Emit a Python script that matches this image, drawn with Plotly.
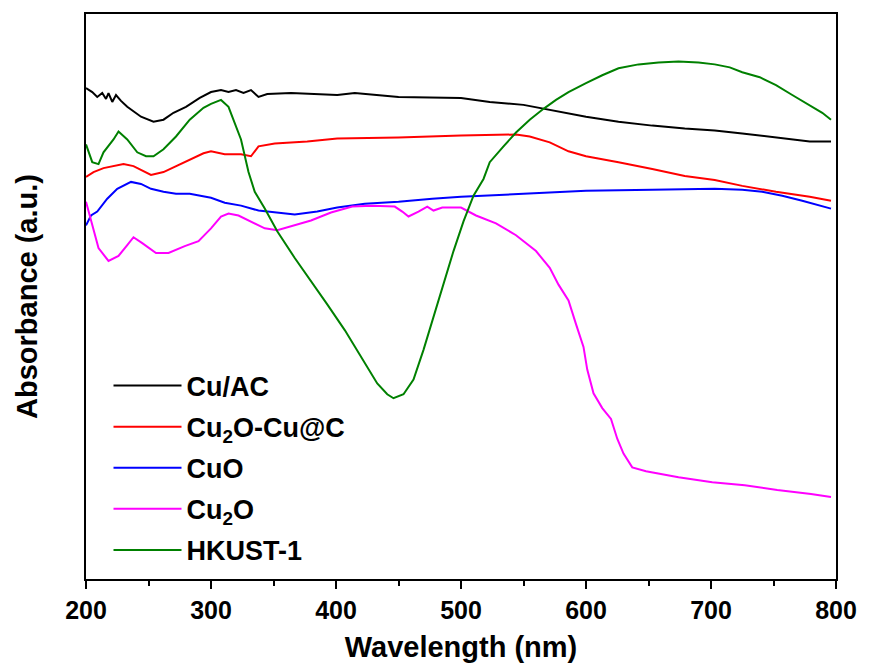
import plotly.graph_objects as go

# Wavelength (nm) / absorbance (a.u.)
wl_cuac = [200, 205, 209, 213, 216, 218, 221, 224, 228, 233, 244, 254, 262, 270, 280, 291, 300, 308, 314, 320, 326, 332, 338, 345, 364, 401, 415, 450, 500, 523, 550, 566, 582, 600, 626, 653, 679, 703, 725, 752, 779, 796]
ab_cuac = [5.02, 4.98, 4.93, 4.97, 4.91, 4.97, 4.88, 4.95, 4.89, 4.83, 4.73, 4.68, 4.70, 4.77, 4.83, 4.92, 4.98, 5.00, 4.98, 5.00, 4.97, 5.00, 4.93, 4.96, 4.97, 4.95, 4.97, 4.93, 4.92, 4.88, 4.85, 4.81, 4.77, 4.73, 4.68, 4.64, 4.61, 4.59, 4.56, 4.52, 4.48, 4.48]

wl_cu2o_cuc = [200, 206, 214, 222, 230, 238, 246, 252, 262, 272, 283, 294, 300, 311, 324, 332, 338, 351, 377, 401, 450, 500, 544, 555, 571, 586, 600, 626, 653, 679, 703, 725, 752, 779, 796]
ab_cu2o_cuc = [4.12, 4.17, 4.21, 4.23, 4.25, 4.23, 4.18, 4.14, 4.17, 4.23, 4.30, 4.36, 4.38, 4.35, 4.35, 4.33, 4.43, 4.46, 4.48, 4.51, 4.52, 4.54, 4.55, 4.53, 4.47, 4.38, 4.33, 4.27, 4.20, 4.13, 4.09, 4.03, 3.97, 3.92, 3.88]

wl_cuo = [200, 204, 209, 217, 225, 236, 244, 252, 262, 272, 283, 291, 300, 311, 324, 338, 351, 367, 385, 401, 423, 450, 477, 500, 550, 600, 653, 703, 725, 741, 757, 773, 796]
ab_cuo = [3.63, 3.73, 3.77, 3.90, 4.00, 4.07, 4.05, 4.00, 3.97, 3.95, 3.95, 3.93, 3.91, 3.86, 3.83, 3.78, 3.76, 3.74, 3.77, 3.81, 3.85, 3.87, 3.90, 3.92, 3.95, 3.98, 3.99, 4.00, 3.99, 3.97, 3.93, 3.88, 3.80]

wl_cu2o = [200, 205, 210, 218, 226, 233, 238, 245, 256, 266, 279, 290, 300, 308, 314, 322, 332, 343, 353, 364, 380, 396, 413, 429, 447, 453, 458, 466, 473, 478, 485, 500, 512, 528, 544, 560, 571, 578, 586, 592, 598, 601, 606, 613, 620, 625, 630, 637, 648, 674, 701, 727, 753, 780, 796]
ab_cu2o = [3.87, 3.63, 3.40, 3.27, 3.32, 3.43, 3.51, 3.45, 3.35, 3.35, 3.42, 3.47, 3.60, 3.72, 3.75, 3.73, 3.67, 3.60, 3.58, 3.62, 3.68, 3.76, 3.82, 3.83, 3.82, 3.77, 3.72, 3.77, 3.82, 3.78, 3.81, 3.81, 3.73, 3.65, 3.53, 3.37, 3.20, 3.03, 2.87, 2.63, 2.40, 2.17, 1.93, 1.78, 1.67, 1.47, 1.32, 1.18, 1.14, 1.08, 1.03, 1.00, 0.95, 0.91, 0.88]

wl_hkust = [200, 205, 210, 214, 222, 226, 233, 241, 248, 254, 262, 272, 283, 294, 300, 308, 314, 319, 324, 330, 335, 343, 353, 367, 380, 393, 407, 420, 433, 441, 446, 454, 462, 470, 478, 486, 494, 502, 510, 518, 523, 534, 544, 555, 566, 576, 586, 600, 613, 626, 642, 658, 674, 690, 703, 715, 725, 739, 752, 765, 779, 789, 796]
ab_hkust = [4.45, 4.27, 4.25, 4.37, 4.50, 4.58, 4.50, 4.37, 4.33, 4.33, 4.40, 4.53, 4.70, 4.82, 4.86, 4.90, 4.83, 4.67, 4.50, 4.17, 3.97, 3.80, 3.57, 3.30, 3.07, 2.83, 2.57, 2.30, 2.03, 1.92, 1.88, 1.92, 2.07, 2.37, 2.70, 3.03, 3.37, 3.67, 3.93, 4.10, 4.27, 4.43, 4.57, 4.70, 4.81, 4.90, 4.98, 5.07, 5.15, 5.22, 5.26, 5.28, 5.29, 5.28, 5.26, 5.23, 5.18, 5.13, 5.05, 4.95, 4.85, 4.77, 4.70]

x_ticks = [200, 300, 400, 500, 600, 700, 800]

series = [
    ("Cu/AC", wl_cuac, ab_cuac, "#000000"),
    ("Cu<sub>2</sub>O-Cu@C", wl_cu2o_cuc, ab_cu2o_cuc, "#ff0000"),
    ("CuO", wl_cuo, ab_cuo, "#0000ff"),
    ("Cu<sub>2</sub>O", wl_cu2o, ab_cu2o, "#ff00ff"),
    ("HKUST-1", wl_hkust, ab_hkust, "#008000"),
]

fig = go.Figure()
for name, x, y, c in series:
    fig.add_trace(go.Scatter(x=x, y=y, mode="lines", name=name, legendgroup=name,
                             line=dict(color=c, width=2)))

narrow = "Liberation Sans Narrow, Arial Narrow, Liberation Sans, Arial"
tickfont = dict(family=narrow, size=25, color="black", weight="bold")
titlefont = dict(family=narrow, size=29, color="black", weight="bold")

fig.update_layout(
    width=869, height=670,
    margin=dict(l=86, r=27, t=13, b=85),
    paper_bgcolor="white", plot_bgcolor="white",
    showlegend=True,
    legend=dict(x=0.03, y=0.008, xanchor="left", yanchor="bottom",
                font=dict(family="Liberation Sans, Arial", size=27, color="black", weight="bold"),
                bgcolor="rgba(0,0,0,0)", tracegroupgap=3, itemwidth=68),
    xaxis=dict(range=[200, 800], tickvals=x_ticks, ticks="outside", ticklen=8, tickwidth=2,
               tickcolor="black", showline=True, linewidth=2, linecolor="black", mirror=True,
               showgrid=False, zeroline=False, tickfont=tickfont,
               minor=dict(dtick=50, ticks="outside", ticklen=5, tickwidth=2, tickcolor="black"),
               title=dict(text="Wavelength (nm)", font=titlefont, standoff=14)),
    yaxis=dict(range=[0.05, 5.77], showticklabels=False, ticks="", showline=True, linewidth=2,
               linecolor="black", mirror=True, showgrid=False, zeroline=False,
               title=dict(text="Absorbance (a.u.)", font=titlefont, standoff=38)),
)

fig.write_html("out.html")
